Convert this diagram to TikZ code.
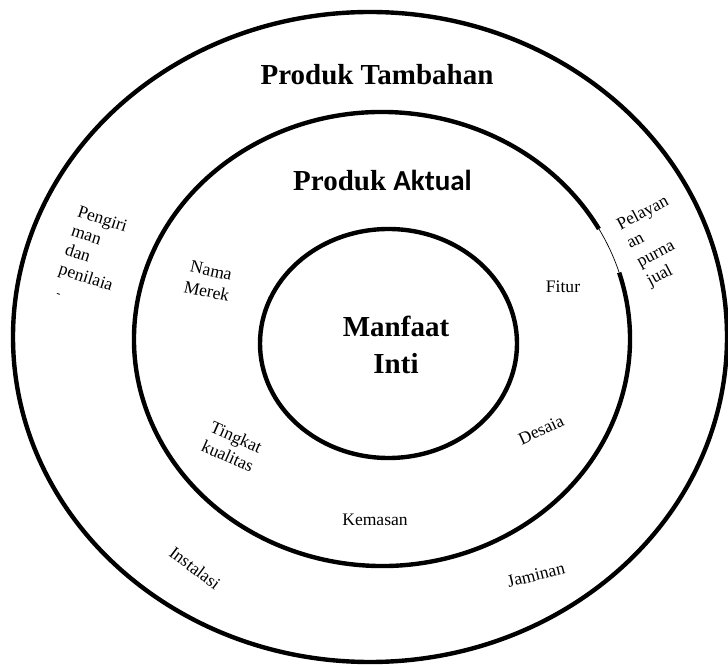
\documentclass[tikz,border=0pt]{standalone}
\usepackage{fontspec}
\setmainfont{Liberation Serif}
\newfontfamily\calibri{Carlito}
\usepackage{tikz}
\tikzset{ring/.style={line width=2.5pt},
	titre/.style={font=\fontsize{16.5}{20}\selectfont\bfseries},
	petit/.style={font=\fontsize{10}{12}\selectfont, inner sep=0pt}}

\begin{document}
\begin{tikzpicture}
	\useasboundingbox (0,0) rectangle (14.56,13.28);

% CERCLES

	\coordinate (luar) at (7.40,6.54);
	\coordinate (tengah) at (7.64,6.50);
	\coordinate (dalam) at (7.77,6.41);

	\draw[ring] (luar) ellipse [x radius=7.14, y radius=6.50];

	\draw[ring] ([shift={(29:4.96 and 4.54)}]tengah)
		arc [start angle=29, end angle=377, x radius=4.96, y radius=4.54];
	\draw[line width=0.4pt] ([shift={(17:4.96 and 4.54)}]tengah)
		arc [start angle=17, end angle=29, x radius=4.96, y radius=4.54];

	\draw[ring] (dalam) ellipse [x radius=2.57, y radius=2.29];

% TITRES

	\node[titre] (tambahan) at (7.54,11.78) {Produk Tambahan};
	\node[titre] (aktual) at (7.65,9.66) {Produk {\calibri Aktual}};
	\node[titre, font=\fontsize{16.5}{21.5}\selectfont\bfseries, align=center] (inti) at (7.92,6.38) {Manfaat\\Inti};

% NOTATION

	\node[petit] (fitur) at (11.26,7.54) {Fitur};
	\node[petit, align=center, rotate=-12] (merek) at (4.18,7.66) {Nama\\Merek};
	\node[petit, align=center, rotate=-24] (kualitas) at (4.64,4.35) {Tingkat\\kualitas};
	\node[petit, rotate=25] (desain) at (10.82,4.68) {Desaia};
	\node[petit] (kemasan) at (7.50,2.88) {Kemasan};
	\node[petit, rotate=-37] (instalasi) at (3.90,1.92) {Instalasi};
	\node[petit, rotate=14] (jaminan) at (10.72,1.78) {Jaminan};
	\node[petit, font=\fontsize{10}{11.5}\selectfont, align=left, rotate=-18] (pengiriman) at (1.90,8.28) {Pengiri\\man\\dan\\penilaia};
	\node[petit, rotate=-18] (sisa) at (1.16,7.36) {\scriptsize -};
	\node[petit, align=left, rotate=28] (purna) at (13.16,8.45) {Pelayan\\an\\purna\\jual};

\end{tikzpicture}
\end{document}
